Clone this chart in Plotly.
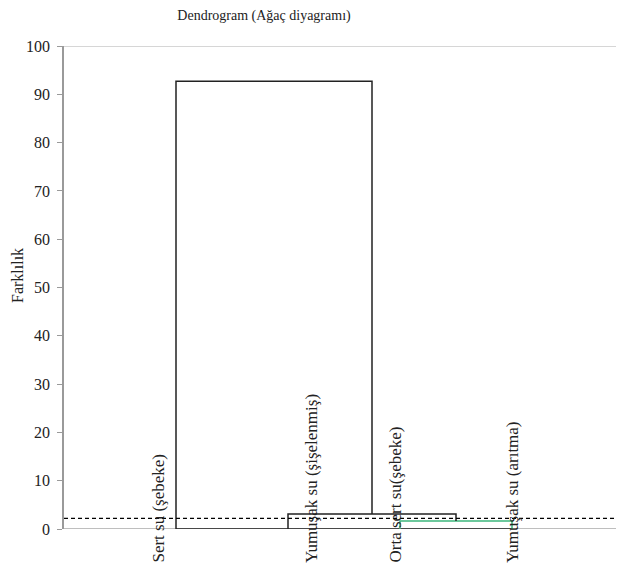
import plotly.graph_objects as go

# ---- data ----
leaf_names = ["Sert su (şebeke)", "Yumuşak su (şişelenmiş)", "Orta sert su(şebeke)", "Yumuşak su (arıtma)"]
leaf_pos = [1, 2, 3, 4]
# merges: (left node, right node, height)
merge_left = ["L2", "L1", "L0"]
merge_right = ["L3", "C0", "C1"]
merge_height = [1.65, 3.1, 92.7]
merge_color = ["#3cb67c", "#222222", "#222222"]
cut_level = 2.2
label_pos = [0.84, 2.21, 2.96, 4.01]
y_ticks = [0, 10, 20, 30, 40, 50, 60, 70, 80, 90, 100]

SERIF = "Liberation Serif, Times New Roman, DejaVu Serif, serif"

fig = go.Figure()

nodes = {f"L{i}": (leaf_pos[i], 0.0) for i in range(len(leaf_pos))}

# baseline between the outermost leaves
fig.add_trace(go.Scatter(x=[min(leaf_pos), max(leaf_pos)], y=[0, 0], mode="lines",
                         line=dict(color="#222222", width=1.5), hoverinfo="skip", showlegend=False))

for k, (a, b, h) in enumerate(zip(merge_left, merge_right, merge_height)):
    xa, ha = nodes[a]
    xb, hb = nodes[b]
    fig.add_trace(go.Scatter(x=[xa, xa, xb, xb], y=[ha, h, h, hb], mode="lines",
                             line=dict(color=merge_color[k], width=1.5),
                             hoverinfo="skip", showlegend=False))
    nodes[f"C{k}"] = ((xa + xb) / 2, h)

# cut line
fig.add_trace(go.Scatter(x=[0, 5], y=[cut_level, cut_level], mode="lines",
                         line=dict(color="#000000", width=1.3, dash="4px,3px"),
                         hoverinfo="skip", showlegend=False))

# leaf labels
for name, xp in zip(leaf_names, label_pos):
    fig.add_annotation(x=xp, y=-0.0745, xref="x", yref="paper", text=name,
                       textangle=-90, showarrow=False, xanchor="center", yanchor="bottom",
                       font=dict(family=SERIF, size=17, color="#222222"))

# y axis title
fig.add_annotation(x=-0.082, y=0.524, xref="paper", yref="paper", text="Farklılık",
                   textangle=-90, showarrow=False, xanchor="center", yanchor="middle",
                   font=dict(family=SERIF, size=16, color="#222222"))

# top frame line at 100
fig.add_shape(type="line", xref="paper", yref="y", x0=0, x1=1, y0=100, y1=100,
              line=dict(color="#c8c8c8", width=1.5))
# x axis base line
fig.add_shape(type="line", xref="paper", yref="y", x0=0, x1=1, y0=0, y1=0,
              line=dict(color="#a8a8a8", width=1.5), layer="below")

fig.update_layout(
    width=624, height=574,
    margin=dict(l=56, r=8, t=38, b=53),
    paper_bgcolor="white", plot_bgcolor="white",
    title=dict(text="Dendrogram (Ağaç diyagramı)", x=256 / 624, xanchor="center",
               xref="container", y=1 - 7 / 574, yanchor="middle",
               font=dict(family=SERIF, size=14, color="#222222")),
    xaxis=dict(range=[0, 5], showticklabels=False, ticks="", showgrid=False, zeroline=False,
               showline=False, fixedrange=True),
    yaxis=dict(range=[0, 100], tickvals=y_ticks, ticks="outside", ticklen=5, tickcolor="#9a9a9a",
               showgrid=False, zeroline=False, showline=True, linecolor="#9a9a9a", linewidth=1.5,
               tickfont=dict(family=SERIF, size=16, color="#222222"), ticklabelstandoff=4),
    showlegend=False,
)

fig.write_html("out.html")
